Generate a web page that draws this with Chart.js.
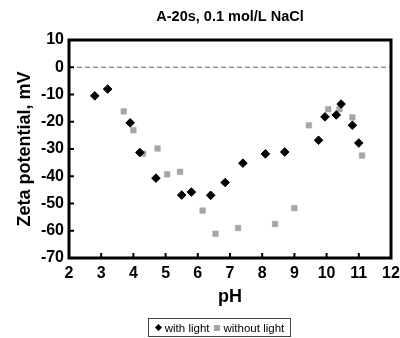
<!DOCTYPE html>
<html>
<head>
<meta charset="utf-8">
<script src="https://cdn.jsdelivr.net/npm/chart.js@4/dist/chart.umd.min.js"></script>
<style>
  html, body { margin: 0; padding: 0; background: #fff; }
  #wrap { position: relative; width: 400px; height: 338px; }
  #legend {
    position: absolute; left: 148px; top: 318px; width: 141px; height: 17px;
    border: 1px solid #444; font-family: "Liberation Sans", Arial, sans-serif;
    font-size: 11.5px; color: #000; display: flex; align-items: center; justify-content: center;
    box-sizing: content-box;
  }
  .dia { display: inline-block; width: 5px; height: 5px; background: #000; transform: rotate(45deg); margin: 0 4px 0 1px; }
  .sq { display: inline-block; width: 6px; height: 6px; background: #a6a6a6; margin: 0 4px 0 4px; }
</style>
</head>
<body>
<div id="wrap">
  <canvas id="c" width="400" height="338"></canvas>
  <div id="legend"><span class="dia"></span>with light<span class="sq"></span>without light</div>
</div>
<script>
const chartTitle = "A-20s, 0.1 mol/L NaCl";
const xTitle = "pH";
const yTitle = "Zeta potential, mV";
const seriesNames = ["with light", "without light"];

const withLightPH   = [2.8, 3.2, 3.9, 4.2, 4.7, 5.5, 5.8, 6.4, 6.85, 7.4, 8.1, 8.7, 9.75, 9.95, 10.3, 10.45, 10.8, 11.0];
const withLightZeta = [-10.5, -8, -20.4, -31.3, -40.7, -46.9, -45.8, -47, -42.3, -35.2, -31.8, -31.1, -26.8, -18.2, -17.5, -13.5, -21.3, -27.8];

const withoutLightPH   = [3.7, 4.0, 4.3, 4.75, 5.05, 5.45, 6.15, 6.55, 7.25, 8.4, 9.0, 9.45, 10.05, 10.4, 10.8, 11.1];
const withoutLightZeta = [-16.2, -23.1, -31.7, -29.8, -39.3, -38.4, -52.6, -61.1, -59, -57.5, -51.7, -21.3, -15.4, -15.4, -18.4, -32.4];

const xMin = 2, xMax = 12, xStep = 1;
const yMin = -70, yMax = 10, yStep = 10;

const toPts = (xs, ys) => xs.map((x, i) => ({x: x, y: ys[i]}));

const FONT = '"Liberation Sans", Arial, sans-serif';

const framePlugin = {
  id: 'frame',
  afterDraw(chart) {
    const {ctx, chartArea: a, scales} = chart;
    ctx.save();
    ctx.strokeStyle = '#000';
    ctx.lineWidth = 2;
    scales.x.ticks.forEach(t => {
      const px = scales.x.getPixelForValue(t.value);
      ctx.beginPath(); ctx.moveTo(px, a.bottom); ctx.lineTo(px, a.bottom - 5); ctx.stroke();
    });
    scales.y.ticks.forEach(t => {
      const py = scales.y.getPixelForValue(t.value);
      ctx.beginPath(); ctx.moveTo(a.left, py); ctx.lineTo(a.left + 5, py); ctx.stroke();
    });
    ctx.lineWidth = 3;
    ctx.strokeRect(a.left, a.top, a.right - a.left, a.bottom - a.top);
    ctx.restore();
  }
};

new Chart(document.getElementById('c'), {
  type: 'scatter',
  data: {
    datasets: [
      {
        type: 'line', label: 'zero', data: [{x: xMin, y: 0}, {x: xMax, y: 0}],
        borderColor: '#666', borderWidth: 1, borderDash: [5, 3], pointRadius: 0, order: 3
      },
      {
        label: seriesNames[0], data: toPts(withLightPH, withLightZeta),
        pointStyle: 'rectRot', pointRadius: 4.3, borderWidth: 1,
        backgroundColor: '#000', borderColor: '#000', order: 1
      },
      {
        label: seriesNames[1], data: toPts(withoutLightPH, withoutLightZeta),
        pointStyle: 'rect', pointRadius: 4, borderWidth: 0.5,
        backgroundColor: '#a6a6a6', borderColor: '#a6a6a6', order: 2
      }
    ]
  },
  options: {
    responsive: false,
    animation: false,
    layout: { padding: { left: 0, right: 9, top: 0, bottom: 25 } },
    plugins: {
      legend: { display: false },
      tooltip: { enabled: false },
      title: {
        display: true, text: chartTitle, color: '#000', fullSize: false,
        font: { family: FONT, size: 14.5, weight: 'bold' },
        padding: { top: 8.5, bottom: 14.1 }
      }
    },
    scales: {
      x: {
        type: 'linear', min: xMin, max: xMax,
        ticks: { stepSize: xStep, color: '#000', font: { family: FONT, size: 16, weight: 'bold' }, padding: 6 },
        grid: { display: false, drawTicks: false },
        border: { display: false },
        title: { display: true, text: xTitle, color: '#000', font: { family: FONT, size: 18, weight: 'bold' }, padding: { top: 0, bottom: 5 } },
        afterFit(s) { s.height = 55; s.paddingLeft = 0; s.paddingRight = 0; }
      },
      y: {
        type: 'linear', min: yMin, max: yMax,
        ticks: { stepSize: yStep, color: '#000', font: { family: FONT, size: 16, weight: 'bold' }, padding: 5 },
        grid: { display: false, drawTicks: false },
        border: { display: false },
        title: { display: true, text: yTitle, color: '#000', font: { family: FONT, size: 18, weight: 'bold' }, padding: { top: 14, bottom: 0 } },
        afterFit(s) { s.width = 69; s.paddingTop = 0; s.paddingBottom = 0; }
      }
    }
  },
  plugins: [framePlugin]
});
</script>
</body>
</html>
